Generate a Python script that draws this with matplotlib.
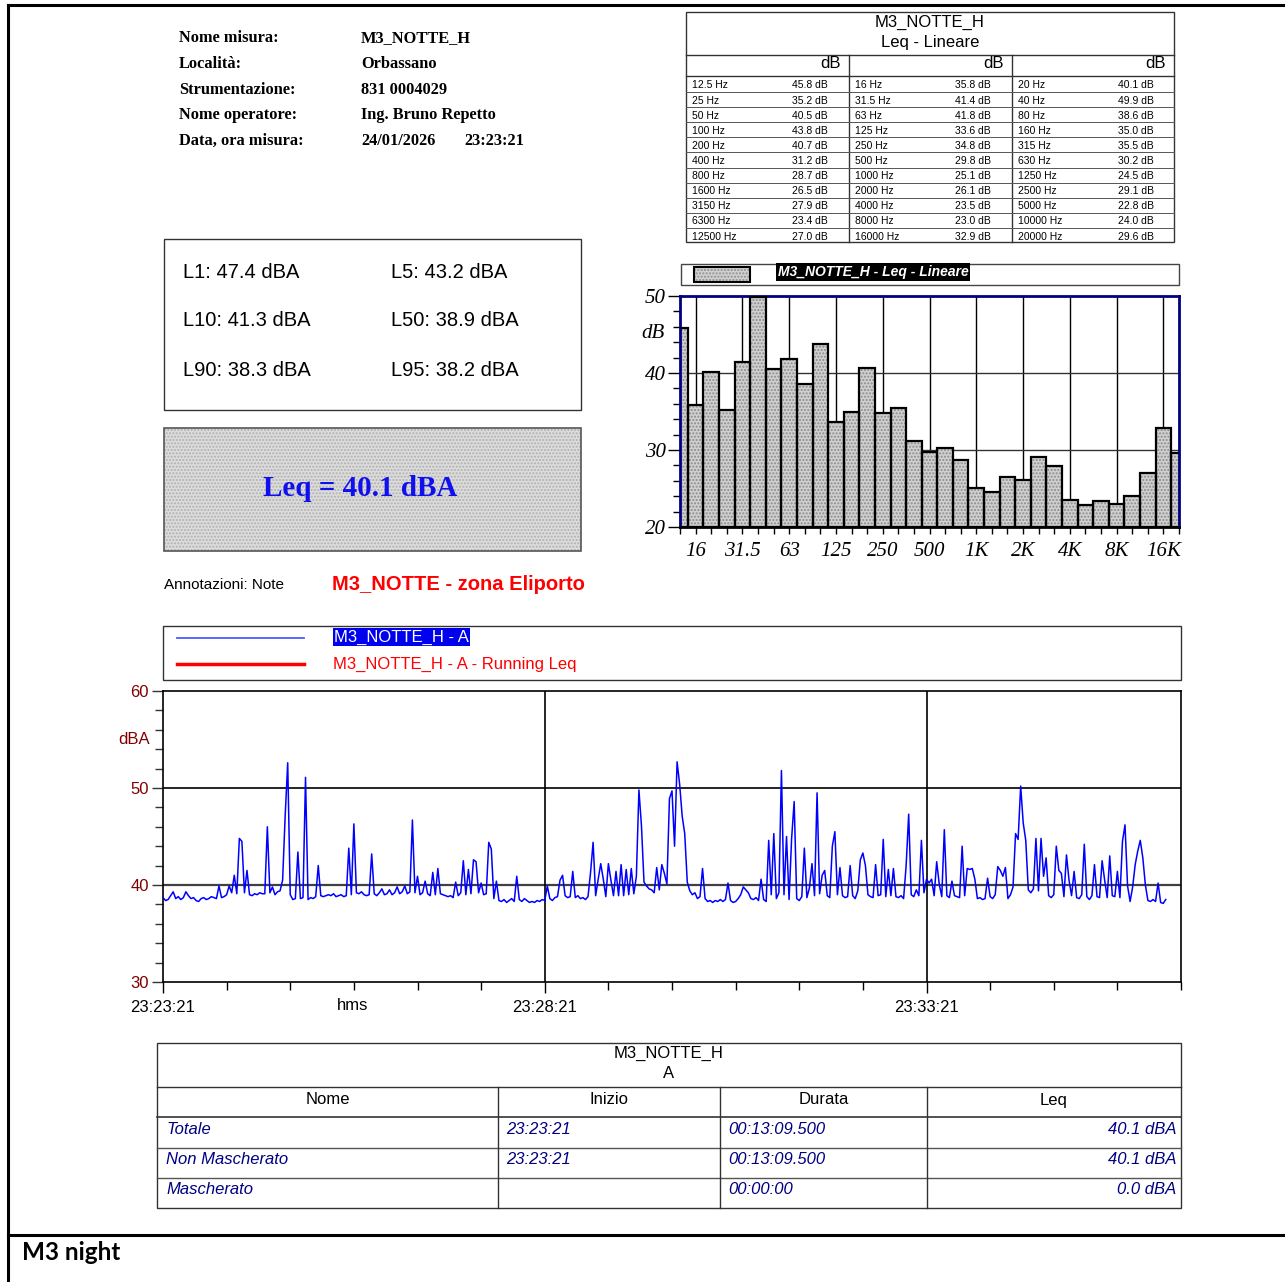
import numpy as np
import matplotlib
matplotlib.use('Agg')
import matplotlib.pyplot as plt
from matplotlib.patches import Rectangle
from matplotlib.ticker import MultipleLocator, FixedLocator

# ---------------- DATA ----------------
info_labels = ['Nome misura:', 'Località:', 'Strumentazione:', 'Nome operatore:', 'Data, ora misura:']
info_values = ['M3_NOTTE_H', 'Orbassano', '831 0004029', 'Ing. Bruno Repetto', '24/01/2026']
meas_time = '23:23:21'

stat_names = ['L1', 'L5', 'L10', 'L50', 'L90', 'L95']
stat_vals = [47.4, 43.2, 41.3, 38.9, 38.3, 38.2]
leq_total = 40.1

note_label = 'Annotazioni: Note'
note_text = 'M3_NOTTE - zona Eliporto'

spec_title = 'M3_NOTTE_H'
spec_sub = 'Leq - Lineare'
freq_labels = ['12.5', '16', '20', '25', '31.5', '40', '50', '63', '80', '100', '125',
               '160', '200', '250', '315', '400', '500', '630', '800', '1000', '1250',
               '1600', '2000', '2500', '3150', '4000', '5000', '6300', '8000', '10000',
               '12500', '16000', '20000']
band_db = [45.8, 35.8, 40.1, 35.2, 41.4, 49.9, 40.5, 41.8, 38.6, 43.8, 33.6,
           35.0, 40.7, 34.8, 35.5, 31.2, 29.8, 30.2, 28.7, 25.1, 24.5,
           26.5, 26.1, 29.1, 27.9, 23.5, 22.8, 23.4, 23.0, 24.0,
           27.0, 32.9, 29.6]
bar_tick_idx = [1, 4, 7, 10, 13, 16, 19, 22, 25, 28, 31]
bar_tick_labels = ['16', '31.5', '63', '125', '250', '500', '1K', '2K', '4K', '8K', '16K']

series_names = ['M3_NOTTE_H - A', 'M3_NOTTE_H - A - Running Leq']
sample_step_s = 2
level_dba = [
    38.7, 38.4, 38.5, 38.9, 39.3, 38.6, 38.8, 38.5, 38.7, 39.3, 38.9, 38.6, 38.7, 38.4, 38.3, 38.6, 38.7, 38.5, 38.6, 38.8,
    38.7, 38.6, 39.9, 38.7, 38.8, 39.0, 39.9, 39.2, 41.0, 39.1, 44.8, 44.5, 39.2, 41.5, 39.0, 38.9, 39.1, 39.0, 39.2, 39.1,
    39.1, 46.0, 39.2, 39.8, 39.0, 39.3, 39.4, 40.5, 47.1, 52.6, 39.0, 38.5, 38.6, 43.4, 38.6, 38.7, 51.1, 38.5, 38.7, 38.6,
    38.8, 42.0, 38.9, 38.8, 38.9, 39.0, 38.9, 39.1, 38.8, 38.9, 39.0, 38.8, 38.9, 43.8, 39.0, 46.3, 39.2, 39.1, 39.3, 39.0,
    38.9, 39.0, 43.2, 39.1, 38.9, 39.2, 39.6, 39.0, 39.1, 39.5, 39.0, 39.2, 39.8, 39.1, 39.3, 39.9, 39.1, 39.3, 46.7, 39.2,
    40.9, 39.0, 39.2, 40.4, 39.1, 38.9, 41.3, 39.0, 41.7, 39.1, 39.0, 38.9, 38.8, 38.9, 38.7, 40.3, 38.9, 39.2, 42.5, 39.0,
    41.6, 39.1, 42.6, 42.4, 39.2, 40.2, 39.0, 39.1, 44.4, 43.7, 38.6, 40.4, 38.4, 38.3, 38.5, 38.2, 38.4, 38.6, 38.3, 40.9,
    38.5, 38.3, 38.6, 38.4, 38.2, 38.3, 38.2, 38.4, 38.3, 38.5, 38.4, 39.9, 38.6, 38.4, 38.7, 38.8, 40.5, 41.0, 38.9, 38.7,
    38.8, 41.4, 38.7, 38.9, 38.6, 38.7, 38.5, 38.8, 41.3, 44.4, 38.9, 40.6, 42.2, 40.6, 38.8, 42.2, 40.5, 38.9, 41.4, 38.9,
    42.1, 38.9, 41.6, 39.0, 41.7, 39.1, 40.9, 49.8, 46.1, 40.3, 39.9, 39.6, 39.5, 39.2, 41.8, 39.5, 42.1, 41.2, 40.1, 48.9,
    49.7, 44.0, 52.7, 50.4, 47.1, 45.3, 40.3, 39.4, 39.0, 39.2, 38.6, 38.8, 41.7, 38.6, 38.3, 38.4, 38.2, 38.4, 38.3, 38.5,
    38.3, 38.5, 40.2, 38.4, 38.2, 38.3, 38.6, 39.0, 39.8, 39.5, 39.2, 38.6, 38.5, 38.7, 38.4, 40.6, 38.5, 38.3, 44.6, 39.0,
    45.3, 38.6, 39.2, 51.8, 39.0, 45.0, 38.5, 44.8, 48.6, 38.6, 38.4, 38.8, 43.8, 38.7, 39.7, 42.2, 38.9, 49.5, 39.1, 41.0,
    41.5, 38.9, 38.7, 44.0, 45.5, 39.0, 41.8, 38.9, 38.7, 38.8, 42.0, 38.9, 38.6, 39.4, 42.6, 43.3, 42.0, 39.0, 38.8, 38.7,
    42.1, 38.9, 39.0, 44.7, 38.8, 41.6, 38.9, 41.7, 38.8, 38.7, 38.9, 38.6, 42.0, 47.3, 39.0, 38.8, 39.5, 38.9, 44.6, 39.2,
    40.6, 40.2, 40.6, 38.9, 42.4, 40.1, 38.8, 45.7, 38.9, 38.7, 40.4, 38.9, 38.8, 38.7, 44.0, 38.9, 41.7, 41.6, 41.7, 40.6,
    38.6, 38.7, 38.5, 38.6, 40.7, 38.8, 38.6, 39.0, 41.9, 41.5, 40.9, 41.8, 38.6, 39.0, 39.8, 45.3, 44.7, 50.2, 46.4, 44.6,
    39.5, 39.2, 39.6, 44.8, 39.4, 44.8, 40.9, 42.8, 38.9, 38.7, 39.0, 44.0, 41.5, 41.2, 38.8, 43.1, 40.5, 38.9, 41.4, 38.7,
    38.6, 39.0, 44.2, 38.8, 38.5, 38.9, 42.1, 38.8, 38.7, 42.5, 40.5, 38.7, 43.0, 38.9, 38.8, 41.4, 38.7, 44.5, 46.2, 39.9,
    38.3, 39.8, 42.1, 43.5, 44.6, 42.8, 40.0, 38.4, 38.3, 38.5, 38.3, 40.2, 38.2, 38.1, 38.5,
]
time_tick_s = [0, 300, 600]
time_tick_labels = ['23:23:21', '23:28:21', '23:33:21']

sum_title = 'M3_NOTTE_H'
sum_weight = 'A'
sum_headers = ['Nome', 'Inizio', 'Durata', 'Leq']
sum_rows = ['Totale', 'Non Mascherato', 'Mascherato']
sum_start = ['23:23:21', '23:23:21', '']
sum_dur = ['00:13:09.500', '00:13:09.500', '00:00:00']
sum_leq = [40.1, 40.1, 0.0]

footer = 'M3 night'

# ---------------- FIGURE ----------------
W, H = 1285, 1282
fig = plt.figure(figsize=(W / 100, H / 100), dpi=100)
bg = fig.add_axes([0, 0, 1, 1])
bg.set_xlim(0, W)
bg.set_ylim(H, 0)
bg.axis('off')

SANS = 'Liberation Sans'
SERIF = 'Liberation Serif'
NAVY = '#000080'


def ax_at(x0, y0, x1, y1):
    return fig.add_axes([x0 / W, 1 - y1 / H, (x1 - x0) / W, (y1 - y0) / H])


def hline(x0, x1, y, **kw):
    bg.plot([x0, x1], [y, y], **kw)


def vline(x, y0, y1, **kw):
    bg.plot([x, x], [y0, y1], **kw)


# page frame
hline(8, W, 5, color='black', lw=2.2)
vline(8, 5, H, color='black', lw=2.2)
hline(8, W, 1235, color='black', lw=2.2)
bg.text(22, 1253, footer, fontsize=17.5, fontweight='bold', family='Lato', va='center', ha='left')

# header info
info_y = [38, 64, 90, 115, 141]
for lab, val, y in zip(info_labels, info_values, info_y):
    bg.text(179, y, lab, fontsize=11.8, fontweight='bold', family=SERIF, va='center')
    bg.text(361, y, val, fontsize=11.8, fontweight='bold', family=SERIF, va='center')
bg.text(464, info_y[-1], meas_time, fontsize=11.8, fontweight='bold', family=SERIF, va='center')

# statistics box
bg.add_patch(Rectangle((164, 239), 417, 171, fill=False, ec='#333333', lw=1))
stat_pos = [(183, 272), (391, 272), (183, 321), (391, 321), (183, 371), (391, 371)]
for n, v, (x, y) in zip(stat_names, stat_vals, stat_pos):
    bg.text(x, y, f'{n}: {v:.1f} dBA', fontsize=14.5, family=SANS, va='center', ha='left')

# Leq box
bg.add_patch(Rectangle((164, 428), 417, 123, facecolor='#dcdcdc', edgecolor='#b0b0b0',
                       hatch='.....', lw=0))
bg.add_patch(Rectangle((164, 428), 417, 123, fill=False, ec='#555555', lw=1.2))
bg.text(360, 489, f'Leq = {leq_total:.1f} dBA', fontsize=21, fontweight='bold', family=SERIF,
        color='#1010ee', ha='center', va='center')

# annotation
bg.text(164, 585, note_label, fontsize=11, family=SANS, va='center')
bg.text(332, 584, note_text, fontsize=14.5, fontweight='bold', family=SANS, color='#ff0000', va='center')

# ---------------- spectrum table ----------------
tx0, tx1, ty0, ty1 = 686, 1174, 12, 242
bg.add_patch(Rectangle((tx0, ty0), tx1 - tx0, ty1 - ty0, fill=False, ec='#333333', lw=1))
bg.text((tx0 + tx1) / 2, 22, spec_title, fontsize=12, family=SANS, ha='center', va='center')
bg.text((tx0 + tx1) / 2, 42, spec_sub, fontsize=12, family=SANS, ha='center', va='center')
hline(tx0, tx1, 55, color='#333333', lw=1)
hline(tx0, tx1, 76, color='#333333', lw=1)
gx = [686, 849, 1012, 1174]
for x in gx[1:3]:
    vline(x, 55, ty1, color='#333333', lw=1)
for g in range(3):
    bg.text(gx[g + 1] - 8, 64, 'dB', fontsize=12, family=SANS, ha='right', va='center')
n_rows = len(freq_labels) // 3
for r in range(n_rows):
    yc = 85.5 + 15.1 * r
    for g in range(3):
        i = 3 * r + g
        bg.text(gx[g] + 6, yc, f'{freq_labels[i]} Hz', fontsize=7.5, family=SANS, ha='left', va='center')
        bg.text(gx[g] + 142, yc, f'{band_db[i]:.1f} dB', fontsize=7.5, family=SANS, ha='right', va='center')
    if r < n_rows - 1:
        hline(tx0, tx1, yc + 6.5, color='#555555', lw=0.7)

# ---------------- bar chart ----------------
bg.add_patch(Rectangle((681, 264), 498, 21, fill=False, ec='#444444', lw=1))
bg.add_patch(Rectangle((694, 267), 56, 15, facecolor='#d0d0d0', edgecolor='#909090', hatch='.....', lw=0))
bg.add_patch(Rectangle((694, 267), 56, 15, fill=False, ec='black', lw=1.5))
bg.text(778, 272, spec_title + ' - Leq - Lineare', fontsize=10, fontweight='bold',
        fontstyle='italic', family=SANS, color='white', va='center', ha='left',
        bbox=dict(facecolor='black', edgecolor='none', pad=1.2))

axb = ax_at(680, 296, 1179, 527)
idx = np.arange(len(band_db))
axb.bar(idx, np.array(band_db) - 20, bottom=20, width=1.0, color='#d0d0d0', edgecolor='#8c8c8c',
        hatch='.....', linewidth=0, zorder=2)
axb.bar(idx, np.array(band_db) - 20, bottom=20, width=1.0, fill=False, edgecolor='black',
        linewidth=1.6, zorder=3)
axb.set_xlim(0, len(band_db) - 1)
axb.set_ylim(20, 50)
for i in bar_tick_idx:
    axb.axvline(i, color='black', lw=1, zorder=1)
for yv in (30, 40):
    axb.axhline(yv, color='#333333', lw=1, zorder=1)
axb.set_xticks(bar_tick_idx)
axb.set_xticklabels(bar_tick_labels, fontsize=15, fontstyle='italic', family=SERIF)
axb.xaxis.set_minor_locator(FixedLocator(idx))
axb.tick_params(axis='x', which='both', direction='out', length=5, width=1, pad=6)
axb.set_yticks([20, 30, 40, 50])
axb.set_yticklabels(['20', '30', '40', '50'], fontsize=15, fontstyle='italic', family=SERIF)
axb.yaxis.set_minor_locator(MultipleLocator(2))
axb.tick_params(axis='y', which='major', direction='out', length=9, width=1, pad=1)
axb.tick_params(axis='y', which='minor', direction='out', length=5, width=1)
for s in ('top', 'right', 'left'):
    axb.spines[s].set_color(NAVY)
    axb.spines[s].set_linewidth(2)
axb.spines['bottom'].set_color('black')
axb.spines['bottom'].set_linewidth(2)
axb.spines['bottom'].set_zorder(4)
bg.text(653, 334, 'dB', fontsize=15, fontstyle='italic', family=SERIF, ha='center', va='center')

# ---------------- time history ----------------
bg.add_patch(Rectangle((163, 626), 1018, 54, fill=False, ec='#333333', lw=1))
hline(177, 304, 638, color='#4a5cff', lw=1.3)
hline(177, 304, 664, color='#ff0000', lw=2.5)
bg.text(334, 637, series_names[0], fontsize=12, family=SANS, color='white', va='center', ha='left',
        bbox=dict(facecolor='#0000ee', edgecolor='none', pad=1.0))
bg.text(333, 664, series_names[1], fontsize=12, family=SANS, color='#ff0000', va='center', ha='left')

axt = ax_at(163, 691, 1181, 982)
t = np.arange(len(level_dba)) * sample_step_s
axt.plot(t, level_dba, color='#0000ff', lw=1.1, zorder=3)
axt.set_xlim(0, 800)
axt.set_ylim(30, 60)
axt.axhline(40, color='#404040', lw=1.6, zorder=1)
axt.axhline(50, color='black', lw=1.2, zorder=1)
for tv in time_tick_s[1:]:
    axt.axvline(tv, color='black', lw=1.2, zorder=1)
axt.set_xticks(time_tick_s)
axt.set_xticklabels(time_tick_labels, fontsize=12, family=SANS)
axt.xaxis.set_minor_locator(MultipleLocator(50))
axt.tick_params(axis='x', which='major', direction='out', length=8, width=1, pad=5)
axt.tick_params(axis='x', which='minor', direction='out', length=6, width=1)
axt.set_yticks([30, 40, 50, 60])
axt.set_yticklabels(['30', '40', '50', '60'], fontsize=12, family=SANS, color='#800000')
axt.yaxis.set_minor_locator(MultipleLocator(2))
axt.tick_params(axis='y', which='major', direction='out', length=8, width=1, pad=2, color='#333333')
axt.tick_params(axis='y', which='minor', direction='out', length=6, width=1, color='#333333')
for s in axt.spines.values():
    s.set_linewidth(1.2)
bg.text(134, 740, 'dBA', fontsize=12, family=SANS, color='#800000', ha='center', va='center')
bg.text(353, 1006, 'hms', fontsize=12, family=SANS, ha='center', va='center')

# ---------------- summary table ----------------
sx0, sx1, sy0, sy1 = 157, 1181, 1043, 1208
bg.add_patch(Rectangle((sx0, sy0), sx1 - sx0, sy1 - sy0, fill=False, ec='#333333', lw=1))
bg.text((sx0 + sx1) / 2, 1053, sum_title, fontsize=12, family=SANS, ha='center', va='center')
bg.text((sx0 + sx1) / 2, 1074, sum_weight, fontsize=12, family=SANS, ha='center', va='center')
hline(sx0, sx1, 1087, color='#333333', lw=1)
hline(sx0, sx1, 1117, color='#333333', lw=1.2)
hline(sx0, sx1, 1148, color='#555555', lw=1)
hline(sx0, sx1, 1178, color='#555555', lw=1)
cx = [157, 498, 720, 927, 1181]
for x in cx[1:4]:
    vline(x, 1087, sy1, color='#333333', lw=1)
for j, hd in enumerate(sum_headers):
    bg.text((cx[j] + cx[j + 1]) / 2, 1100, hd, fontsize=12, family=SANS, ha='center', va='center')
row_y = [1129, 1159, 1190]
for name, st, du, lq, y in zip(sum_rows, sum_start, sum_dur, sum_leq, row_y):
    kw = dict(fontsize=12, family=SANS, fontstyle='italic', color=NAVY, va='center')
    bg.text(166, y, name, ha='left', **kw)
    bg.text(506, y, st, ha='left', **kw)
    bg.text(728, y, du, ha='left', **kw)
    bg.text(1176, y, f'{lq:.1f} dBA', ha='right', **kw)

fig.savefig('out.png', dpi=100)
